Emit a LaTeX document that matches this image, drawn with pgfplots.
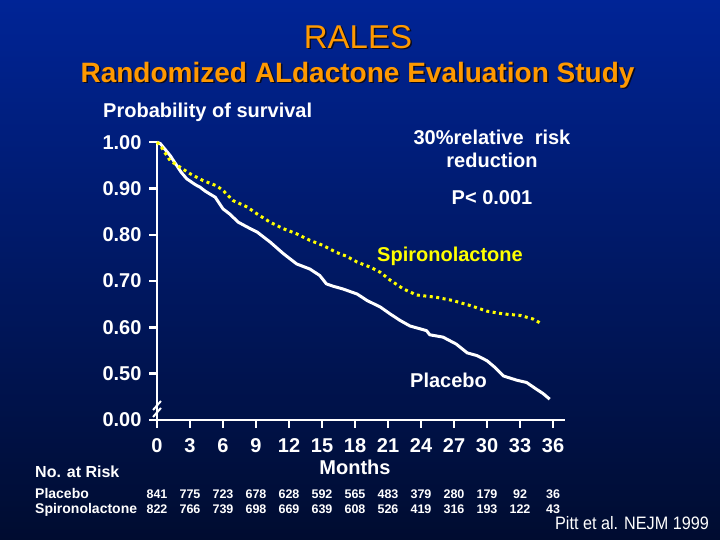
\documentclass[border=0pt]{standalone}
\usepackage{pgfplots}
\pgfplotsset{compat=1.18}
\usepackage{fontspec}
\setmainfont{Liberation Sans}
\newfontfamily\narrowfont[FakeStretch=0.9]{Liberation Sans}
\definecolor{bgtop}{RGB}{0,36,150}
\definecolor{bgmid}{RGB}{0,28,112}
\definecolor{bgbot}{RGB}{0,12,48}
\definecolor{ttlorange}{RGB}{255,153,0}
\definecolor{spiro}{RGB}{255,255,0}
\definecolor{shadowc}{RGB}{10,10,30}
\begin{document}
\begin{tikzpicture}[x=1bp,y=1bp]
\shade[top color=bgtop, middle color=bgmid, bottom color=bgbot] (0,0) rectangle (720,540);
\useasboundingbox (0,0) rectangle (720,540);
% titles
\node[anchor=base, text=shadowc, font=\fontsize{33bp}{36bp}\selectfont] at (359.5,490.2) {RALES};
\node[anchor=base, text=ttlorange, font=\fontsize{33bp}{36bp}\selectfont] at (358,491.7) {RALES};
\node[anchor=base, text=shadowc, font=\fontsize{28bp}{30bp}\selectfont\bfseries] at (359,456.2) {Randomized ALdactone Evaluation Study};
\node[anchor=base, text=ttlorange, font=\fontsize{28bp}{30bp}\selectfont\bfseries] at (357.5,457.7) {Randomized ALdactone Evaluation Study};
% annotations
\node[anchor=base west, inner sep=0, text=white, font=\fontsize{20bp}{22bp}\selectfont\bfseries] at (103,422) {Probability of survival};
\node[anchor=base, inner sep=0, text=white, font=\fontsize{20bp}{22bp}\selectfont\bfseries] at (492,395) {30\%relative\ \ risk};
\node[anchor=base, inner sep=0, text=white, font=\fontsize{20bp}{22bp}\selectfont\bfseries] at (492,372) {reduction};
\node[anchor=base, inner sep=0, text=white, font=\fontsize{20bp}{22bp}\selectfont\bfseries] at (492,335) {P< 0.001};
\node[anchor=base west, inner sep=0, text=spiro, font=\fontsize{20bp}{22bp}\selectfont\bfseries] at (377,278.3) {Spironolactone};
\node[anchor=base west, inner sep=0, text=white, font=\fontsize{20bp}{22bp}\selectfont\bfseries] at (410,152) {Placebo};
\node[anchor=base, inner sep=0, text=white, font=\fontsize{20bp}{22bp}\selectfont\bfseries] at (355,65) {Months};
% number at risk
\node[anchor=base west, inner sep=0, text=white, font=\fontsize{16bp}{18bp}\selectfont\bfseries] at (35,62.3) {No. at Risk};
\node[anchor=base west, inner sep=0, text=white, font=\fontsize{14bp}{16bp}\selectfont\bfseries] at (35,41.7) {Placebo};
\node[anchor=base west, inner sep=0, text=white, font=\fontsize{14bp}{16bp}\selectfont\bfseries] at (35,26.5) {Spironolactone};
\foreach \n [count=\i from 0] in {841,775,723,678,628,592,565,483,379,280,179,92,36}
  \node[anchor=base, inner sep=0, text=white, font=\fontsize{12.5bp}{14bp}\selectfont\bfseries] at (157+33*\i,41.7) {\n};
\foreach \n [count=\i from 0] in {822,766,739,698,669,639,608,526,419,316,193,122,43}
  \node[anchor=base, inner sep=0, text=white, font=\fontsize{12.5bp}{14bp}\selectfont\bfseries] at (157+33*\i,26.5) {\n};
\node[anchor=base east, inner sep=0, text=white, font=\fontsize{18bp}{20bp}\narrowfont] at (709,10.5) {Pitt et al. NEJM 1999};
\begin{axis}[
  at={(157bp,120bp)}, anchor=south west,
  x=11bp, y=463bp,
  xmin=0, xmax=37.1, ymin=0.4, ymax=1.0,
  axis lines=left,
  axis line style={-, white, line width=2.5bp},
  xtick={0,3,...,36},
  xticklabels={0,3,6,9,12,15,18,21,24,27,30,33,36},
  ytick={0.4,0.5,0.6,0.7,0.8,0.9,1.0},
  yticklabels={0.00,0.50,0.60,0.70,0.80,0.90,1.00},
  tick align=outside, major tick length=8bp,
  tick style={white, line width=2.5bp},
  ticklabel style={font=\fontsize{20bp}{22bp}\selectfont\bfseries, text=white},
  xticklabel style={yshift=-7bp},
  yticklabel style={xshift=-4bp},
  clip=false,
]
\addplot[white, line width=3bp, line join=round] coordinates {
(0,1.0) (0.3,0.997) (1.2,0.971) (2.2,0.935) (2.7,0.921) (3.5,0.908) (3.9,0.903) (4.4,0.894) (5.3,0.881) (6.0,0.856) (6.6,0.845) (7.4,0.827) (8.5,0.813) (9.1,0.806) (10.3,0.784) (11.5,0.759) (12.7,0.737) (13.9,0.726) (14.8,0.712) (15.4,0.694) (16.0,0.689) (16.9,0.683) (18.2,0.672) (19.1,0.658) (20.3,0.644) (21.2,0.629) (22.1,0.615) (23.0,0.603) (24.5,0.593) (24.8,0.584) (26.0,0.579) (27.2,0.564) (28.2,0.545) (29.1,0.539) (30.0,0.528) (30.7,0.514) (31.5,0.495) (32.7,0.486) (33.6,0.481) (34.4,0.468) (35.1,0.457) (35.7,0.445)
};
\addplot[spiro, line width=3bp, dash pattern=on 3bp off 3.5bp] coordinates {
(0,1.0) (0.3,0.993) (1.2,0.960) (2.1,0.946) (3.0,0.932) (4.2,0.917) (5.4,0.906) (6.0,0.896) (6.9,0.874) (8.2,0.860) (9.1,0.845) (10.3,0.827) (11.5,0.813) (12.7,0.802) (13.9,0.788) (15.1,0.777) (16.3,0.762) (17.2,0.754) (18.2,0.741) (19.4,0.730) (20.3,0.719) (21.2,0.702) (22.4,0.683) (23.6,0.670) (25.4,0.665) (26.9,0.658) (28.5,0.647) (30.0,0.635) (31.5,0.629) (33.0,0.626) (34.2,0.618) (34.8,0.610)
};
\draw[white, line width=2bp] (axis cs:-0.36,0.4216) -- (axis cs:0.36,0.441);
\draw[white, line width=2bp] (axis cs:-0.36,0.4065) -- (axis cs:0.36,0.426);
\end{axis}
\end{tikzpicture}
\end{document}
